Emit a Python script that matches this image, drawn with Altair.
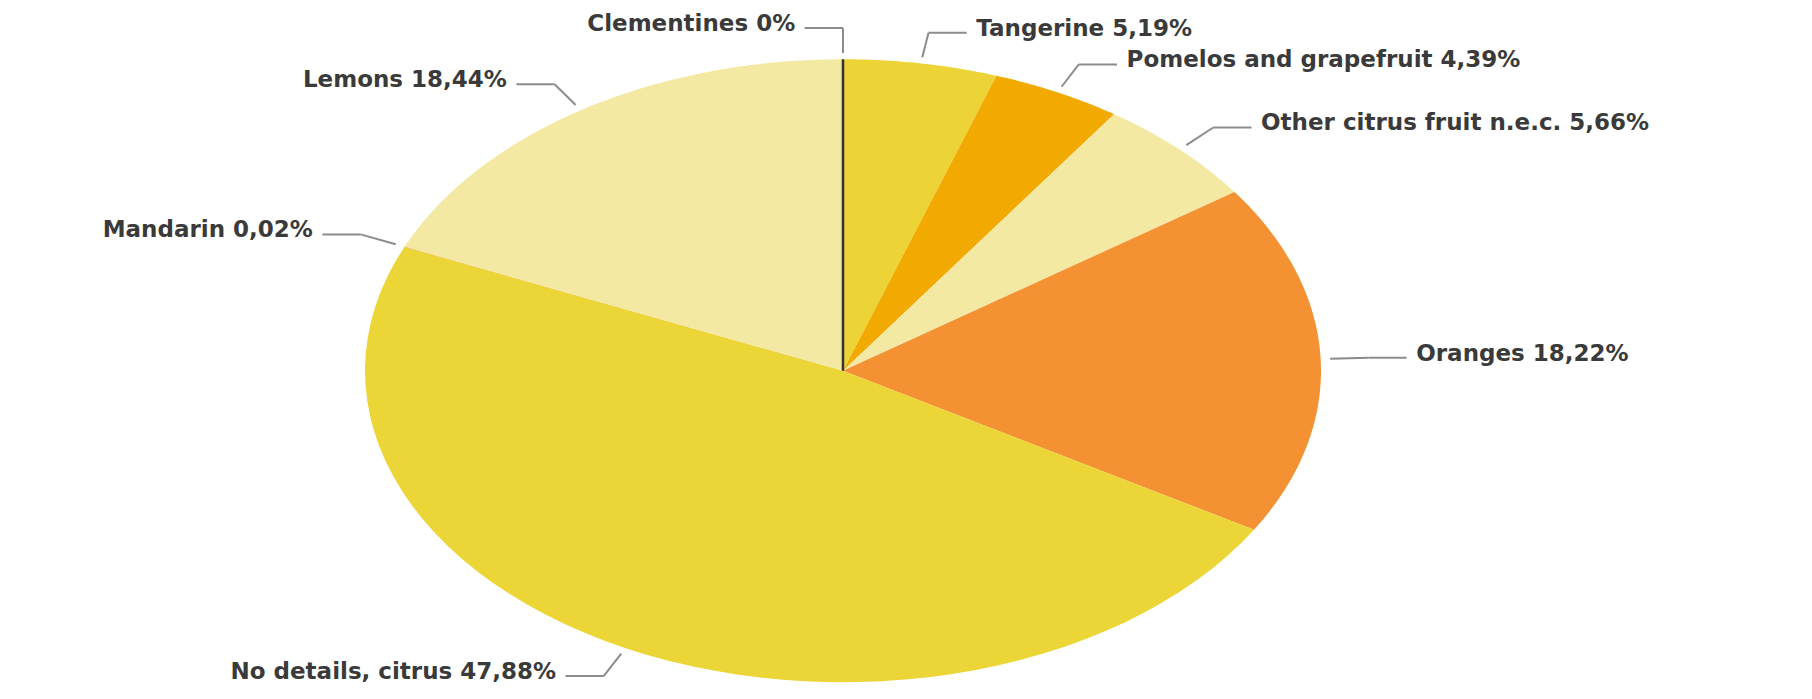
import altair as alt
import pandas as pd

# ---- data ----
categories = [
    "Clementines",
    "Tangerine",
    "Pomelos and grapefruit",
    "Other citrus fruit n.e.c.",
    "Oranges",
    "No details, citrus",
    "Mandarin",
    "Lemons",
]
shares = [0, 5.19, 4.39, 5.66, 18.22, 47.88, 0.02, 18.44]
colors = ["#333333", "#ECD436", "#F2A900", "#F4E9A2", "#F39133", "#ECD536", "#F39133", "#F4E9A2"]

df = pd.DataFrame({
    "category": categories,
    "share": shares,
    "idx": list(range(len(categories))),
    "label": [f"{c} {format(v, 'g').replace('.', ',')}%" for c, v in zip(categories, shares)],
})

# plot-area geometry (pie is an ellipse because x and y scales differ)
W, H = 1796, 683
XDOM = [-1.7469, 2.0105]
YDOM = [-1.0281, 1.1645]


def xe(field):
    return alt.X(field, type="quantitative", scale=alt.Scale(domain=XDOM), axis=None)


def ye(field):
    return alt.Y(field, type="quantitative", scale=alt.Scale(domain=YDOM), axis=None)


base = (
    alt.Chart(df)
    .transform_window(cum="sum(share)", sort=[alt.SortField("idx")], frame=[None, 0])
    .transform_joinaggregate(total="sum(share)")
    .transform_calculate(
        a0="2*PI*(datum.cum - datum.share)/datum.total",
        a1="2*PI*datum.cum/datum.total",
        mid="PI*(2*datum.cum - datum.share)/datum.total",
    )
)

poly = (
    base.transform_calculate(t="sequence(0, 63)")
    .transform_flatten(["t"])
    .transform_calculate(
        ang="datum.a0 + (datum.a1 - datum.a0) * (datum.t - 1) / 60",
        px="(datum.t == 0 || datum.t == 62) ? 0 : sin(datum.ang)",
        py="(datum.t == 0 || datum.t == 62) ? 0 : cos(datum.ang)",
    )
)

slices = poly.mark_line(filled=True, strokeWidth=0).encode(
    x=xe("px"),
    y=ye("py"),
    order=alt.Order("t:Q"),
    detail="category:N",
    color=alt.Color("category:N", scale=alt.Scale(domain=categories, range=colors), legend=None),
)

zero_slice = (
    poly.transform_filter("datum.share == 0")
    .mark_line(stroke="#333333", strokeWidth=2.5)
    .encode(x=xe("px"), y=ye("py"), order=alt.Order("t:Q"), detail="category:N")
)

lead = base.transform_calculate(
    side="sin(datum.mid) > 0.01 ? 1 : -1",
    ex="1.02*sin(datum.mid)",
    ey="1.02*cos(datum.mid)",
    kx="1.10*sin(datum.mid)",
    ky="1.10*cos(datum.mid)",
    hx="datum.kx + datum.side*0.08",
    tx="datum.hx + datum.side*0.02",
)

line_style = dict(color="#8c8c8c", strokeWidth=2)
radial = lead.mark_rule(**line_style).encode(x=xe("ex"), y=ye("ey"), x2="kx:Q", y2="ky:Q")
horiz = lead.mark_rule(**line_style).encode(x=xe("kx"), y=ye("ky"), x2="hx:Q")

text_style = dict(baseline="middle", dy=-4, font="DejaVu Sans", fontSize=23,
                  fontWeight="bold", color="#3a3a3a")
right_labels = lead.transform_filter("datum.side > 0").mark_text(align="left", **text_style).encode(
    x=xe("tx"), y=ye("ky"), text="label:N")
left_labels = lead.transform_filter("datum.side < 0").mark_text(align="right", **text_style).encode(
    x=xe("tx"), y=ye("ky"), text="label:N")

chart = (
    alt.layer(slices, zero_slice, radial, horiz, right_labels, left_labels)
    .properties(width=W, height=H, autosize=alt.AutoSizeParams(type="none"), padding=0)
    .configure_view(stroke=None)
)

chart.save("out.html", embed_options={"renderer": "svg", "actions": False})
